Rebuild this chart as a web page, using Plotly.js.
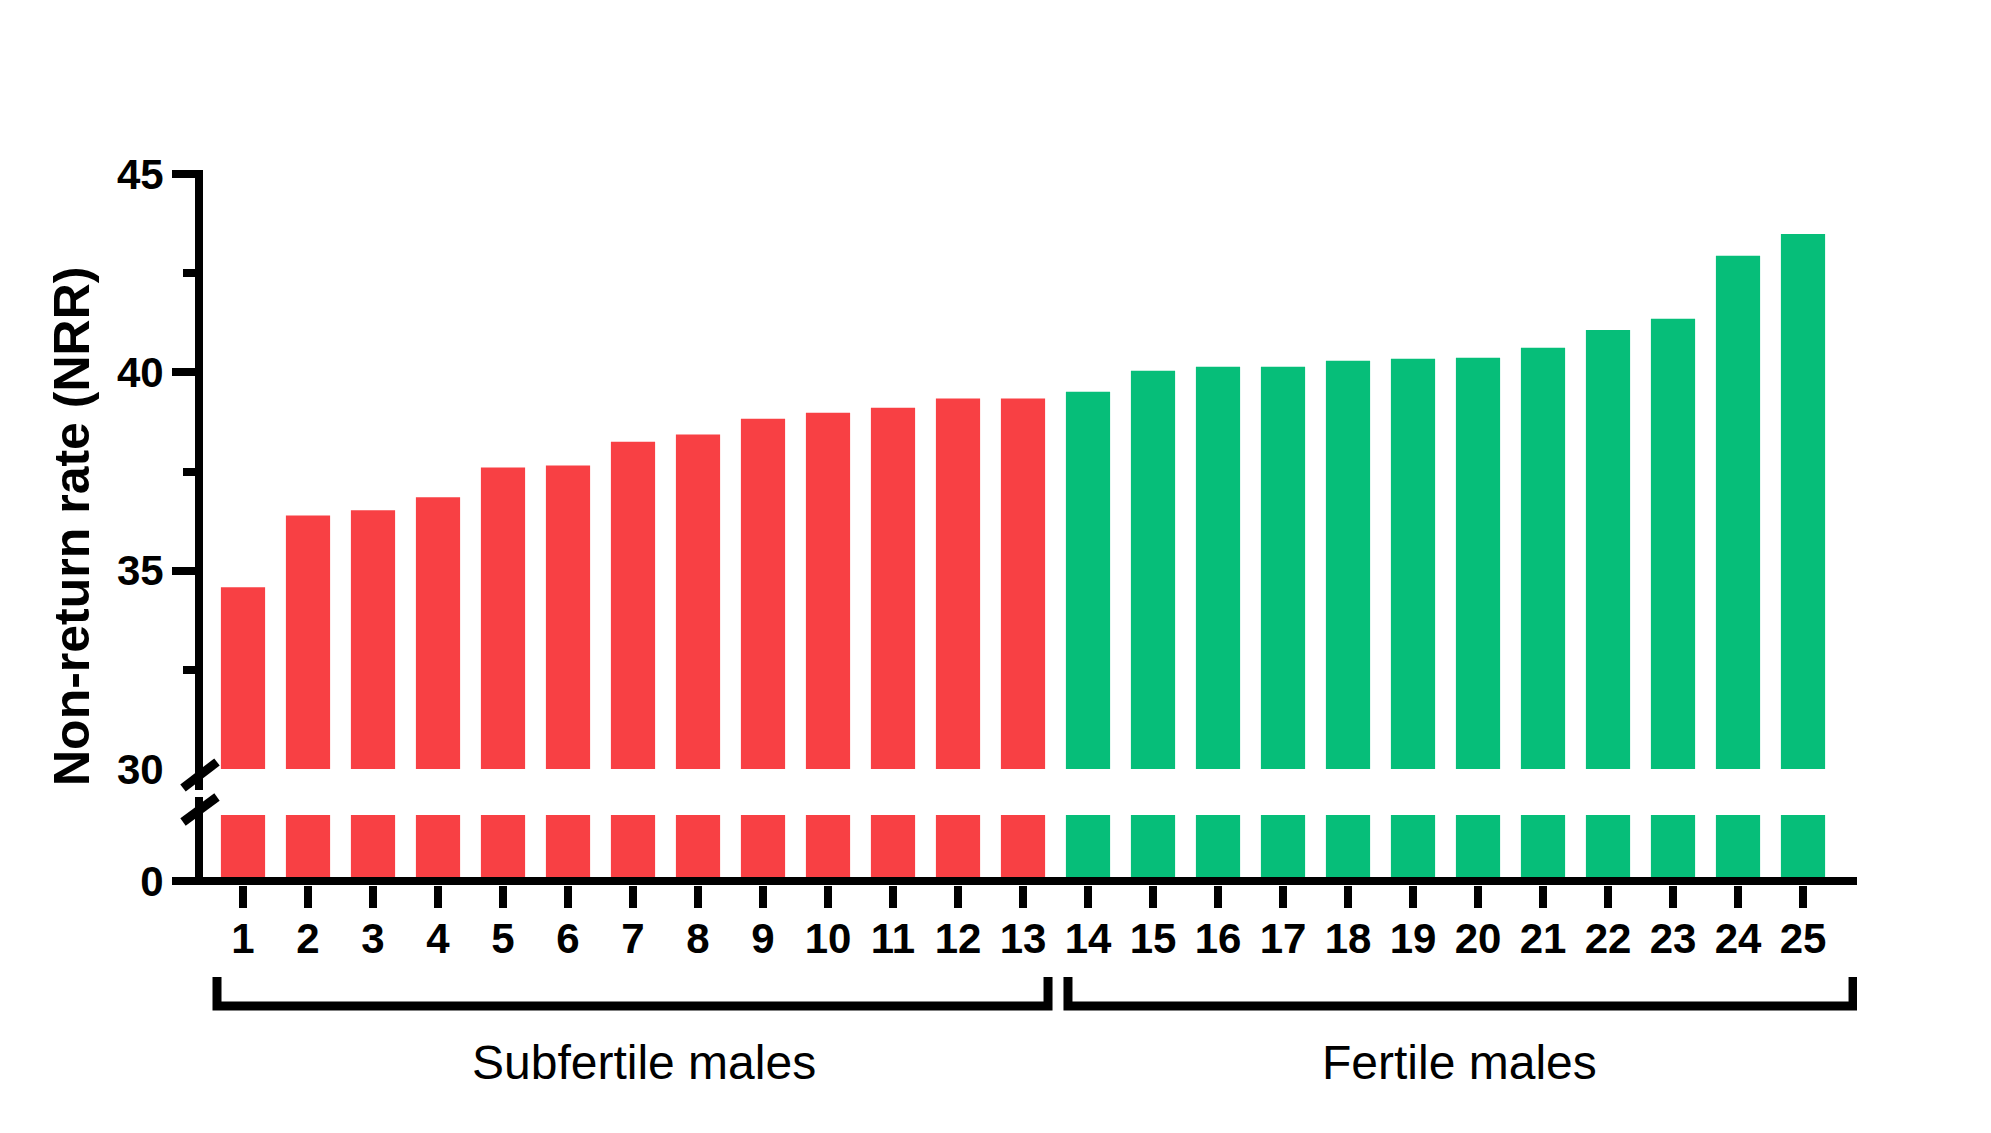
<!DOCTYPE html>
<html>
<head>
<meta charset="utf-8">
<script src="https://cdn.plot.ly/plotly-3.0.1.min.js"></script>
<style>
  html, body { margin: 0; padding: 0; background: #fff; }
  #nrr_graph { width: 1991px; height: 1133px; }
</style>
</head>
<body>
<div id="nrr_graph"></div>
<script>
// donor numbers on the x axis
const subfertileDonors = [1, 2, 3, 4, 5, 6, 7, 8, 9, 10, 11, 12, 13];
const fertileDonors = [14, 15, 16, 17, 18, 19, 20, 21, 22, 23, 24, 25];

// non-return rate (NRR)
const subfertileNRR = [34.58, 36.39, 36.52, 36.85, 37.60, 37.65, 38.25, 38.43, 38.83, 38.98, 39.11, 39.34, 39.34];
const fertileNRR = [39.51, 40.04, 40.14, 40.14, 40.29, 40.34, 40.37, 40.62, 41.07, 41.35, 42.94, 43.49];

const upperTicks = [35, 40, 45];
const upperMinorTicks = [32.5, 37.5, 42.5];

const groupNames = ['Subfertile males', 'Fertile males'];

const RED = '#F84044';
const GREEN = '#06BE79';

// page is 1991 x 1133, helpers to turn pixels into paper fractions
const W = 1991, H = 1133;
const px = v => v / W;
const py = v => 1 - v / H;

function barTrace(x, y, color, yaxis) {
    return {
        type: 'bar',
        x: x,
        y: y,
        yaxis: yaxis,
        width: 0.68,
        marker: {color: color, line: {width: 0}},
        hoverinfo: 'x+y'
    };
}

let graphData = [
    // upper part of the broken axis
    barTrace(subfertileDonors, subfertileNRR, RED, 'y'),
    barTrace(fertileDonors, fertileNRR, GREEN, 'y'),
    // lower stub near zero
    barTrace(subfertileDonors, subfertileNRR, RED, 'y2'),
    barTrace(fertileDonors, fertileNRR, GREEN, 'y2'),
    // empty trace so the axis holding the "30" label gets drawn
    {type: 'scatter', x: [], y: [], yaxis: 'y3', hoverinfo: 'skip'}
];

const allDonors = subfertileDonors.concat(fertileDonors);
const tickFont = {family: 'Liberation Sans, Arial, sans-serif', size: 42, color: '#000', weight: 'bold'};
const black = '#000';

function line(x0, y0, x1, y1, w) {
    return {type: 'line', xref: 'paper', yref: 'paper',
        x0: px(x0), y0: py(y0), x1: px(x1), y1: py(y1),
        line: {color: black, width: w}};
}

function bracket(xa, xb) {
    return {type: 'path', xref: 'x', yref: 'paper',
        path: `M ${xa},${py(977)} L ${xa},${py(1006)} L ${xb},${py(1006)} L ${xb},${py(977)}`,
        line: {color: black, width: 9}};
}

let layout = {
    width: W,
    height: H,
    margin: {l: 0, r: 0, t: 0, b: 0},
    paper_bgcolor: '#fff',
    plot_bgcolor: 'rgba(0,0,0,0)',
    showlegend: false,
    barmode: 'overlay',
    xaxis: {
        domain: [px(203), px(1857)],
        range: [0.3846, 25.8308],
        anchor: 'y2',
        tickmode: 'array',
        tickvals: allDonors,
        ticktext: allDonors.map(String),
        ticks: 'outside',
        ticklen: 22,
        tickwidth: 8,
        tickcolor: black,
        tickfont: tickFont,
        ticklabelstandoff: -5,
        showline: false,
        showgrid: false,
        zeroline: false
    },
    yaxis: {
        domain: [py(769), py(174)],
        range: [30, 45],
        anchor: 'x',
        tickmode: 'array',
        tickvals: upperTicks,
        ticks: 'outside',
        ticklen: 30,
        tickwidth: 8,
        tickcolor: black,
        tickfont: tickFont,
        minor: {tickmode: 'array', tickvals: upperMinorTicks, ticks: 'outside',
                ticklen: 19, tickwidth: 8, tickcolor: black, showgrid: false},
        showline: false,
        showgrid: false,
        zeroline: false
    },
    // only the "30" label of the break, without a tick mark
    yaxis3: {
        overlaying: 'y',
        anchor: 'x',
        side: 'left',
        range: [30, 45],
        tickmode: 'array',
        tickvals: [30],
        ticks: 'outside',
        ticklen: 30,
        tickwidth: 8,
        tickcolor: 'rgba(0,0,0,0)',
        tickfont: tickFont,
        showline: false,
        showgrid: false,
        zeroline: false
    },
    yaxis2: {
        domain: [py(885), py(815)],
        range: [-0.4, 6.6],
        anchor: 'x',
        tickmode: 'array',
        tickvals: [0],
        ticks: 'outside',
        ticklen: 30,
        tickwidth: 8,
        tickcolor: black,
        tickfont: tickFont,
        showline: false,
        showgrid: false,
        zeroline: false
    },
    shapes: [
        // y axis, upper and lower pieces
        line(199, 170, 199, 790, 8),
        line(199, 797, 199, 885, 8),
        // x axis
        line(173, 881, 1857, 881, 8),
        // break marks
        line(183, 788, 217, 762, 9),
        line(183, 822, 217, 797, 9),
        // group brackets
        bracket(0.6, 13.385),
        bracket(13.692, 25.77)
    ],
    annotations: [
        {
            text: 'Non-return rate (NRR)',
            xref: 'paper', yref: 'paper',
            x: px(72), y: py(527),
            xanchor: 'center', yanchor: 'middle',
            textangle: -90,
            showarrow: false,
            font: {family: 'Liberation Sans, Arial, sans-serif', size: 50, color: black, weight: 'bold'}
        },
        {
            text: groupNames[0],
            xref: 'x', yref: 'paper',
            x: 7.17, y: py(1062),
            xanchor: 'center', yanchor: 'middle',
            showarrow: false,
            font: {family: 'Liberation Sans, Arial, sans-serif', size: 48, color: black}
        },
        {
            text: groupNames[1],
            xref: 'x', yref: 'paper',
            x: 19.72, y: py(1062),
            xanchor: 'center', yanchor: 'middle',
            showarrow: false,
            font: {family: 'Liberation Sans, Arial, sans-serif', size: 48, color: black}
        }
    ]
};

Plotly.newPlot('nrr_graph', graphData, layout, {staticPlot: true, displayModeBar: false});
</script>
</body>
</html>
